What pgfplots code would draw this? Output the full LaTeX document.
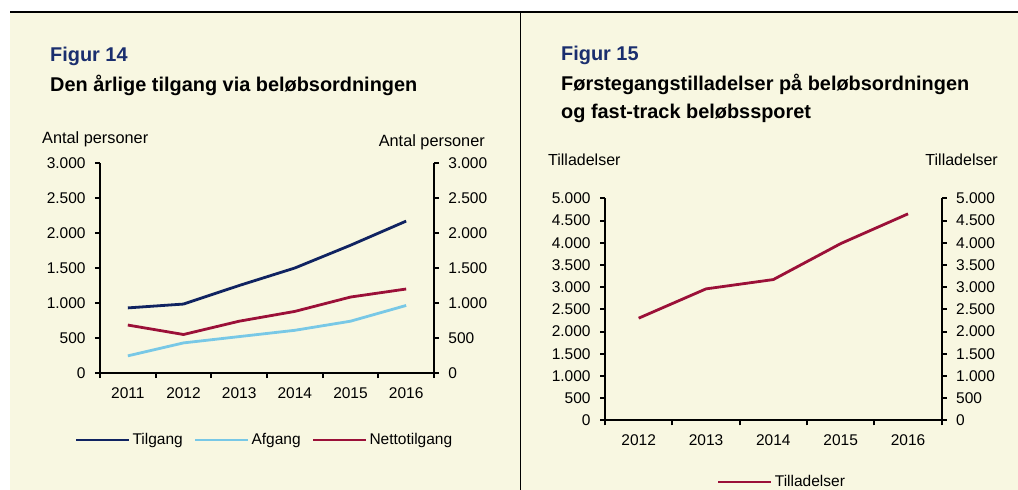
\documentclass[border=0pt]{standalone}
\usepackage{fontspec}
\setmainfont{Liberation Sans}
\usepackage{pgfplots}
\pgfplotsset{compat=1.18}

\definecolor{bg}{RGB}{248,247,225}
\definecolor{titleblue}{RGB}{26,46,110}
\definecolor{tilgang}{RGB}{16,35,97}
\definecolor{afgang}{RGB}{120,200,230}
\definecolor{netto}{RGB}{155,16,56}

\pgfplotsset{
  panel/.style={
    scale only axis,
    line width=2.2bp,
    axis line style={-, line width=2.2bp},
    x axis line style={-, line width=2.2bp},
    y axis line style={-, line width=2.2bp},
    tick align=outside,
    major tick length=5bp,
    every tick/.style={black, line width=2bp},
    scaled y ticks=false,
    /pgf/number format/.cd, 1000 sep={.}, assume math mode=true,
    /pgfplots/.cd,
    tick label style={font=\fontsize{15.5bp}{18bp}\selectfont},
    xticklabel style={yshift=-10bp},
    yticklabel shift=5bp,
    clip=false,
  },
  legline/.style={
    legend image code/.code={\draw[##1] (0bp,0bp) -- (53bp,0bp);},
  },
}

\begin{document}
\begin{tikzpicture}[font=\fontsize{15.5bp}{18bp}\selectfont]
\useasboundingbox (0,0) rectangle (1018bp,-490bp);
\fill[bg] (10bp,-12bp) rectangle (1018bp,-490bp);
\draw[line width=1.5bp] (10bp,-12bp) -- (1018bp,-12bp);
\draw[line width=1.5bp] (520.5bp,-12bp) -- (520.5bp,-490bp);

% Figur 14
\node[anchor=base west, font=\fontsize{19.9bp}{22bp}\selectfont\bfseries, text=titleblue, inner sep=0pt] at (50bp,-61bp) {Figur 14};
\node[anchor=base west, font=\fontsize{19.9bp}{22bp}\selectfont\bfseries, inner sep=0pt] at (50bp,-91bp) {Den årlige tilgang via beløbsordningen};
\node[anchor=base west, inner sep=0pt, font=\fontsize{16.3bp}{18bp}\selectfont] at (42bp,-143bp) {Antal personer};
\node[anchor=base east, inner sep=0pt, font=\fontsize{16.3bp}{18bp}\selectfont] at (485bp,-146bp) {Antal personer};

\begin{axis}[
  axis x line*=bottom, axis y line*=left,
  xtick pos=left, ytick pos=left,
  panel, legline,
  at={(100bp,-373bp)}, anchor=south west,
  width=334bp, height=210bp,
  xmin=0.5, xmax=6.5, ymin=0, ymax=3000,
  xtick={0.5,1.5,...,6.5}, xticklabels={},
  extra x ticks={1,2,3,4,5,6},
  extra x tick labels={2011,2012,2013,2014,2015,2016},
  extra x tick style={major tick length=0pt},
  ytick={0,500,...,3000},
  legend columns=3,
  legend style={at={(0.4925,-0.319)}, anchor=center, draw=none, fill=none,
    /tikz/every even column/.append style={column sep=9bp}},
]
\addplot[tilgang, line width=2.8bp] coordinates {(1,930) (2,985) (3,1250) (4,1500) (5,1825) (6,2170)};
\addlegendentry{Tilgang}
\addplot[afgang, line width=2.8bp] coordinates {(1,245) (2,430) (3,520) (4,610) (5,740) (6,965)};
\addlegendentry{Afgang}
\addplot[netto, line width=2.8bp] coordinates {(1,685) (2,550) (3,740) (4,880) (5,1085) (6,1200)};
\addlegendentry{Nettotilgang}
\end{axis}
\begin{axis}[
  axis x line=none, axis y line*=right,
  ytick pos=right, yticklabel pos=right,
  panel,
  at={(100bp,-373bp)}, anchor=south west,
  width=334bp, height=210bp,
  xmin=0.5, xmax=6.5, ymin=0, ymax=3000,
  ytick={0,500,...,3000},
]
\end{axis}

% Figur 15
\node[anchor=base west, font=\fontsize{19.9bp}{22bp}\selectfont\bfseries, text=titleblue, inner sep=0pt] at (561bp,-60bp) {Figur 15};
\node[anchor=base west, font=\fontsize{19.9bp}{22bp}\selectfont\bfseries, inner sep=0pt] at (561bp,-90bp) {Førstegangstilladelser på beløbsordningen};
\node[anchor=base west, font=\fontsize{19.9bp}{22bp}\selectfont\bfseries, inner sep=0pt] at (561bp,-118bp) {og fast-track beløbssporet};
\node[anchor=base west, inner sep=0pt, font=\fontsize{16bp}{18bp}\selectfont] at (548bp,-165bp) {Tilladelser};
\node[anchor=base east, inner sep=0pt, font=\fontsize{16bp}{18bp}\selectfont] at (998bp,-165bp) {Tilladelser};

\begin{axis}[
  axis x line*=bottom, axis y line*=left,
  xtick pos=left, ytick pos=left,
  panel, legline,
  at={(605bp,-420.3bp)}, anchor=south west,
  width=336.7bp, height=222bp,
  xmin=0.5, xmax=5.5, ymin=0, ymax=5000,
  xtick={0.5,1.5,...,5.5}, xticklabels={},
  extra x ticks={1,2,3,4,5},
  extra x tick labels={2012,2013,2014,2015,2016},
  extra x tick style={major tick length=0pt},
  ytick={0,500,...,5000},
  legend style={at={(0.5257,-0.278)}, anchor=center, draw=none, fill=none},
]
\addplot[netto, line width=2.8bp] coordinates {(1,2300) (2,2960) (3,3170) (4,3980) (5,4650)};
\addlegendentry{Tilladelser}
\end{axis}
\begin{axis}[
  axis x line=none, axis y line*=right,
  ytick pos=right, yticklabel pos=right,
  panel,
  at={(605bp,-420.3bp)}, anchor=south west,
  width=336.7bp, height=222bp,
  xmin=0.5, xmax=5.5, ymin=0, ymax=5000,
  ytick={0,500,...,5000},
]
\end{axis}
\end{tikzpicture}
\end{document}
